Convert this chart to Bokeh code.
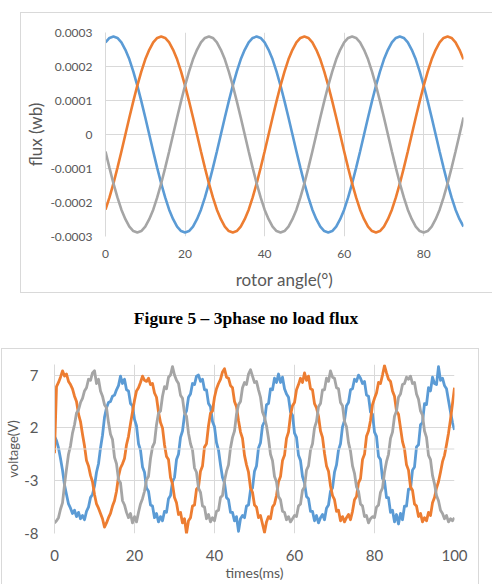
from bokeh.plotting import figure
from bokeh.models import FixedTicker, Span, Div, ColumnDataSource
from bokeh.layouts import column
from bokeh.embed import file_html
from bokeh.resources import INLINE

# ---------------- data: Figure 5 (3 phase no-load flux) ----------------
rotor_angle = list(range(0, 91))  # degrees, 1 degree step

# flux values, in units of 1e-4 Wb
flux_a_e4 = [2.71, 2.84,
    2.88, 2.84, 2.71, 2.49, 2.21, 1.85, 1.44, 0.98, 0.50, 0.00, -0.50, -0.98, -1.44, -1.85, -2.21, -2.49, -2.71, -2.84,
    -2.88, -2.84, -2.71, -2.49, -2.21, -1.85, -1.44, -0.98, -0.50, 0.00, 0.50, 0.98, 1.44, 1.85, 2.21, 2.49, 2.71, 2.84,
    2.88, 2.84, 2.71, 2.49, 2.21, 1.85, 1.44, 0.98, 0.50, 0.00, -0.50, -0.98, -1.44, -1.85, -2.21, -2.49, -2.71, -2.84,
    -2.88, -2.84, -2.71, -2.49, -2.21, -1.85, -1.44, -0.98, -0.50, 0.00, 0.50, 0.98, 1.44, 1.85, 2.21, 2.49, 2.71, 2.84,
    2.88, 2.84, 2.71, 2.49, 2.21, 1.85, 1.44, 0.98, 0.50, 0.00, -0.50, -0.98, -1.44, -1.85, -2.21, -2.49, -2.71]
flux_b_e4 = [-2.21, -1.85, -1.44, -0.98, -0.50, 0.00, 0.50, 0.98, 1.44, 1.85, 2.21, 2.49, 2.71, 2.84,
    2.88, 2.84, 2.71, 2.49, 2.21, 1.85, 1.44, 0.98, 0.50, 0.00, -0.50, -0.98, -1.44, -1.85, -2.21, -2.49, -2.71, -2.84,
    -2.88, -2.84, -2.71, -2.49, -2.21, -1.85, -1.44, -0.98, -0.50, 0.00, 0.50, 0.98, 1.44, 1.85, 2.21, 2.49, 2.71, 2.84,
    2.88, 2.84, 2.71, 2.49, 2.21, 1.85, 1.44, 0.98, 0.50, 0.00, -0.50, -0.98, -1.44, -1.85, -2.21, -2.49, -2.71, -2.84,
    -2.88, -2.84, -2.71, -2.49, -2.21, -1.85, -1.44, -0.98, -0.50, 0.00, 0.50, 0.98, 1.44, 1.85, 2.21, 2.49, 2.71, 2.84,
    2.88, 2.84, 2.71, 2.49, 2.21]
flux_c_e4 = [-0.50, -0.98, -1.44, -1.85, -2.21, -2.49, -2.71, -2.84,
    -2.88, -2.84, -2.71, -2.49, -2.21, -1.85, -1.44, -0.98, -0.50, 0.00, 0.50, 0.98, 1.44, 1.85, 2.21, 2.49, 2.71, 2.84,
    2.88, 2.84, 2.71, 2.49, 2.21, 1.85, 1.44, 0.98, 0.50, 0.00, -0.50, -0.98, -1.44, -1.85, -2.21, -2.49, -2.71, -2.84,
    -2.88, -2.84, -2.71, -2.49, -2.21, -1.85, -1.44, -0.98, -0.50, 0.00, 0.50, 0.98, 1.44, 1.85, 2.21, 2.49, 2.71, 2.84,
    2.88, 2.84, 2.71, 2.49, 2.21, 1.85, 1.44, 0.98, 0.50, 0.00, -0.50, -0.98, -1.44, -1.85, -2.21, -2.49, -2.71, -2.84,
    -2.88, -2.84, -2.71, -2.49, -2.21, -1.85, -1.44, -0.98, -0.50, 0.00, 0.50]

flux_ticks = [-0.0003, -0.0002, -0.0001, 0.0, 0.0001, 0.0002, 0.0003]
flux_tick_labels = ["-0.0003", "-0.0002", "-0.0001", "0", "0.0001", "0.0002", "0.0003"]
angle_ticks = [0, 20, 40, 60, 80]

caption_text = "Figure 5 \u2013 3phase no load flux"

# ---------------- data: phase voltages ----------------
sample_step_ms = 0.5
voltage_a = [1.2, 0.8, 0.1, -0.9, -2.0, -3.4, -4.3, -5.2, -5.6, -6.1, -5.8, -6.4, -6.0, -6.6, -6.3,
    -6.7, -5.9, -5.5, -4.6, -4.3, -3.5, -2.2, -1.4, 0.1, 1.3, 3.0, 3.9, 4.4, 4.5, 5.0, 5.1, 5.6, 6.0,
    6.9, 6.2, 6.6, 5.6, 5.5, 4.3, 4.1, 2.8, 2.2, 0.5, -0.1, -1.7, -2.2, -3.7, -4.0, -5.3, -5.4, -6.5, -6.1, -6.9,
    -6.4, -6.8, -5.9, -6.0, -4.7, -4.4, -3.1, -2.7, -1.0, -0.5, 1.1, 1.7, 3.2, 3.6, 4.9, 5.2, 6.2, 6.1, 6.9,
    7.0, 6.4, 6.6, 5.6, 5.6, 4.3, 4.0, 2.6, 2.1, 0.6, -0.1, -1.5, -2.7, -3.2, -4.6, -4.8, -6.0, -6.0, -6.8, -6.4,
    -7.8, -6.6, -6.3, -6.5, -5.4, -5.3, -3.9, -3.7, -2.1, -1.6, 0.1, 0.6, 2.2, 2.6, 4.2, 4.3, 5.7, 5.6, 6.7, 6.3,
    7.1, 6.3, 6.8, 5.7, 5.2, 4.9, 3.5, 3.2, 1.5, 1.1, -0.6, -1.1, -2.6, -3.2, -4.5, -4.7, -5.9, -5.9, -6.8, -6.3,
    -7.0, -6.5, -6.2, -6.7, -5.6, -5.3, -4.0, -3.7, -2.2, -1.5, -0.1, 0.5, 2.1, 2.7, 4.1, 4.4, 5.6, 5.7, 6.6, 6.4,
    7.0, 6.7, 6.2, 6.4, 5.1, 5.0, 3.5, 3.3, 1.6, 1.2, -0.7, -1.0, -2.8, -3.0, -4.6, -4.6, -6.0, -5.8, -6.9, -6.2,
    -7.1, -6.1, -6.7, -5.4, -5.4, -3.8, -3.8, -2.0, -1.7, 0.2, 0.4, 2.3, 2.5, 4.3, 4.2, 5.8, 5.5, 6.8, 6.2,
    6.1, 7.8, 6.5, 6.7, 6.0, 5.7, 4.6, 3.5, 2.5, 1.8]
voltage_b = [-0.4, 5.9, 6.3, 6.8, 7.4, 6.9, 7.1, 6.4, 6.1, 5.7, 5.0, 4.5, 3.3, 2.6, 1.4, 0.3, -1.1, -1.6, -2.5, -3.1,
    -4.3, -5.2, -5.6, -6.1, -6.6, -7.4, -7.0, -6.5, -6.1, -5.4, -4.9, -4.0, -2.6, -1.8, -1.4, -0.9, 0.4, 1.2, 2.4, 3.5, 4.6,
    5.5, 5.8, 6.3, 6.9, 6.5,
    6.4, 6.7, 6.1, 6.2, 5.3, 4.9, 3.5, 2.5, 2.0, 0.4, -0.7, -1.0, -2.7, -3.3, -4.6, -5.1, -6.2, -6.0, -7.0, -6.6,
    -8.0, -6.8, -6.5, -5.4, -5.3, -3.8, -3.6, -2.1, -1.6, 0.2, 0.5, 2.2, 3.4, 3.6, 4.9, 5.7, 6.2, 6.6, 7.3,
    7.6, 6.8, 6.7, 6.0, 5.8, 4.5, 4.0, 2.7, 1.6, 1.0, -0.6, -1.5, -2.2, -3.7, -4.1, -5.3, -5.5, -6.5, -6.3, -7.1,
    -7.9, -6.9, -6.4, -6.6, -5.5, -5.2, -4.4, -3.1, -2.6, -1.1, -0.6, 1.0, 1.6, 3.2, 4.1, 4.4, 5.6, 6.1, 6.7, 6.3,
    7.2, 6.5, 6.9, 5.7, 5.6, 4.3, 3.9, 3.1, 1.7, 1.1, -0.4, -1.6, -2.1, -3.5, -4.4, -4.8, -5.9, -5.8, -6.8, -6.4,
    -6.9, -6.5, -6.2, -6.7, -5.9, -4.8, -4.5, -3.2, -2.8, -1.0, -0.5, 1.2, 1.7, 2.7, 4.2, 4.8, 5.3, 6.3, 6.2, 7.0,
    7.9, 7.2, 6.6, 6.4, 5.5, 5.0, 3.6, 3.3, 2.0, 0.7, 0.0, -1.5, -2.0, -3.6, -3.9, -5.2, -5.4, -6.4, -6.1, -6.9,
    -6.5, -6.8, -6.0, -6.3, -5.1, -4.6, -3.7, -3.1, -2.2, -1.2, -0.6, 0.4, 1.5, 2.8, 4.3, 5.8]
voltage_c = [-7.0, -6.8, -6.5, -5.7, -5.1, -3.4, -1.9, -0.5, 0.3, 1.5, 2.3, 3.4, 3.7, 4.4, 4.8, 5.5, 5.8, 6.6, 6.5, 7.2, 7.4,
    6.2, 6.6, 5.5, 5.0, 4.2, 3.9, 2.5, 1.4, 0.9, -0.8, -1.4, -2.9, -3.2, -4.9, -5.3, -6.0, -6.5, -6.1, -7.0,
    -6.4, -6.9, -6.0, -5.2, -4.7, -4.0, -2.9, -2.6, -0.9, 0.2, 0.6, 2.3, 3.4, 3.6, 5.0, 5.9, 5.7, 6.8, 7.0,
    7.8, 7.0, 6.5, 6.2, 5.1, 4.8, 3.4, 3.1, 1.5, 0.5, -0.1, -1.8, -2.2, -3.7, -4.1, -5.4, -5.5, -6.6, -6.2, -6.9,
    -6.5, -6.8, -5.9, -5.8, -4.6, -4.4, -3.0, -2.1, -1.5, 0.1, 1.1, 1.7, 3.3, 4.2, 4.5, 5.8, 6.3, 6.1, 7.1,
    7.5, 6.9, 6.3, 6.4, 5.6, 4.9, 3.5, 3.0, 2.2, 1.0, -0.5, -1.1, -2.6, -3.1, -4.5, -4.8, -5.9, -6.0, -6.7, -6.4,
    -6.9, -6.6, -6.3, -6.4, -5.4, -5.2, -3.9, -3.6, -2.0, -1.6, -0.1, 0.5, 2.0, 2.6, 4.0, 4.3, 5.6, 5.6, 6.7, 6.4,
    7.4, 6.8, 6.7, 5.8, 5.7, 4.4, 4.1, 2.6, 2.1, 0.6, -0.2, -1.6, -2.3, -3.6, -4.0, -5.2, -5.4, -6.4, -6.3, -7.0,
    -6.6, -6.4, -6.5, -5.5, -5.3, -4.1, -3.7, -2.2, -1.2, -0.5, 1.0, 1.6, 3.1, 3.6, 4.9, 5.2, 6.1, 6.2, 6.8,
    6.6, 6.9, 6.2, 6.3, 5.2, 4.7, 3.6, 3.2, 1.7, 1.1, -0.6, -1.0, -2.5, -3.3, -4.4, -4.9, -5.8, -6.1, -6.6, -6.3,
    -6.9, -6.6, -6.8, -6.5]
time_ticks = [0, 20, 40, 60, 80, 100]
voltage_ticks = [-8, -3, 2, 7]
voltage_tick_labels = ["-8", "-3", "2", "7"]

assert len(flux_a_e4) == len(flux_b_e4) == len(flux_c_e4) == len(rotor_angle), \
    (len(flux_a_e4), len(flux_b_e4), len(flux_c_e4))
assert len(voltage_a) == len(voltage_b) == len(voltage_c) == 201, \
    (len(voltage_a), len(voltage_b), len(voltage_c))

BLUE, ORANGE, GRAY = "#5b9bd5", "#ed7d31", "#a5a5a5"
GRID = "#d9d9d9"
TEXT = "#595959"
FONT = "Lato"

# ---------------- top chart ----------------
flux_src = ColumnDataSource(dict(
    angle=rotor_angle,
    a=[v * 1e-4 for v in flux_a_e4],
    b=[v * 1e-4 for v in flux_b_e4],
    c=[v * 1e-4 for v in flux_c_e4],
))

p1 = figure(width=472, height=281, output_backend="svg", toolbar_location=None,
            x_range=(0, 90), y_range=(-0.0003, 0.0003),
            min_border_left=84, min_border_right=30, min_border_top=19, min_border_bottom=58)
p1.frame_align = False
p1.margin = (12, 0, 0, 20)
p1.styles = {"border-left": "1px solid #d9d9d9", "border-top": "1px solid #d9d9d9",
             "border-bottom": "1px solid #d9d9d9", "box-sizing": "border-box"}
p1.outline_line_color = None
p1.background_fill_color = "white"
p1.border_fill_color = "white"

for col, colr in (("a", BLUE), ("b", ORANGE), ("c", GRAY)):
    p1.line("angle", col, source=flux_src, line_color=colr, line_width=2.6)

p1.xaxis.ticker = FixedTicker(ticks=angle_ticks)
p1.yaxis.ticker = FixedTicker(ticks=flux_ticks)
p1.yaxis.major_label_overrides = dict(zip(flux_ticks, flux_tick_labels))
p1.xgrid.grid_line_color = GRID
p1.ygrid.grid_line_color = GRID
p1.xgrid.ticker = FixedTicker(ticks=angle_ticks)
p1.ygrid.ticker = FixedTicker(ticks=flux_ticks)

for ax in (p1.xaxis[0], p1.yaxis[0]):
    ax.major_tick_line_color = None
    ax.minor_tick_line_color = None
    ax.major_tick_out = 0
    ax.major_tick_in = 0
    ax.major_label_text_font = FONT
    ax.major_label_text_font_size = "12px"
    ax.major_label_text_color = TEXT
    ax.axis_label_text_font = FONT
    ax.axis_label_text_font_size = "17px"
    ax.axis_label_text_font_style = "normal"
    ax.axis_label_text_color = TEXT
    ax.major_label_standoff = 13
p1.xaxis.axis_line_color = None
p1.yaxis.axis_line_color = GRID
p1.xaxis.axis_label = "rotor angle(\u00b0)"
p1.yaxis.axis_label = "flux (wb)"
p1.xaxis.axis_label_standoff = 8
p1.yaxis.axis_label_standoff = 1

# ---------------- caption ----------------
caption = Div(text=caption_text, width=492, height=55, margin=(0, 0, 0, 0),
              styles={"font-family": "'Liberation Serif', 'Times New Roman', serif",
                      "font-weight": "bold", "font-size": "17.5px", "color": "#000000",
                      "text-align": "center", "width": "492px", "padding-top": "13px",
                      "box-sizing": "border-box"})

# ---------------- bottom chart ----------------
t_ms = [i * sample_step_ms for i in range(len(voltage_a))]
volt_src = ColumnDataSource(dict(t=t_ms, a=voltage_a, b=voltage_b, c=voltage_c))

p2 = figure(width=478, height=236, output_backend="svg", toolbar_location=None,
            x_range=(0, 100), y_range=(-8, 8),
            min_border_left=52, min_border_right=26, min_border_top=15, min_border_bottom=52)
p2.frame_align = False
p2.margin = (0, 0, 0, 1)
p2.styles = {"border-left": "1px solid #d9d9d9", "border-top": "1px solid #d9d9d9",
             "border-right": "1px solid #d9d9d9", "box-sizing": "border-box"}
p2.outline_line_color = None
p2.background_fill_color = "white"
p2.border_fill_color = "white"

p2.add_layout(Span(location=0, dimension="width", line_color=GRID, line_width=1))
for col, colr in (("a", BLUE), ("b", ORANGE), ("c", GRAY)):
    p2.line("t", col, source=volt_src, line_color=colr, line_width=2.8, line_join="round")

p2.xaxis.ticker = FixedTicker(ticks=time_ticks)
p2.yaxis.ticker = FixedTicker(ticks=voltage_ticks)
p2.yaxis.major_label_overrides = dict(zip(voltage_ticks, voltage_tick_labels))
p2.xgrid.ticker = FixedTicker(ticks=time_ticks)
p2.ygrid.ticker = FixedTicker(ticks=voltage_ticks)
p2.xgrid.grid_line_color = GRID
p2.ygrid.grid_line_color = GRID
for ax in (p2.xaxis[0], p2.yaxis[0]):
    ax.major_tick_line_color = None
    ax.minor_tick_line_color = None
    ax.major_tick_out = 0
    ax.major_tick_in = 0
    ax.major_label_text_font = FONT
    ax.major_label_text_font_size = "15px"
    ax.major_label_text_color = TEXT
    ax.axis_label_text_font = FONT
    ax.axis_label_text_font_style = "normal"
    ax.axis_label_text_color = TEXT
    ax.major_label_standoff = 16
p2.xaxis.axis_line_color = None
p2.yaxis.axis_line_color = GRID
p2.xaxis.axis_label = "times(ms)"
p2.yaxis.axis_label = "voltage(V)"
p2.xaxis.axis_label_text_font_size = "14px"
p2.yaxis.axis_label_text_font_size = "13px"
p2.xaxis.axis_label_standoff = 0
p2.yaxis.axis_label_standoff = 0

layout = column(p1, caption, p2, spacing=0, margin=(0, 0, 0, 0))
layout.styles = {"background-color": "white"}

open("out.html", "w").write(file_html(layout, INLINE))
